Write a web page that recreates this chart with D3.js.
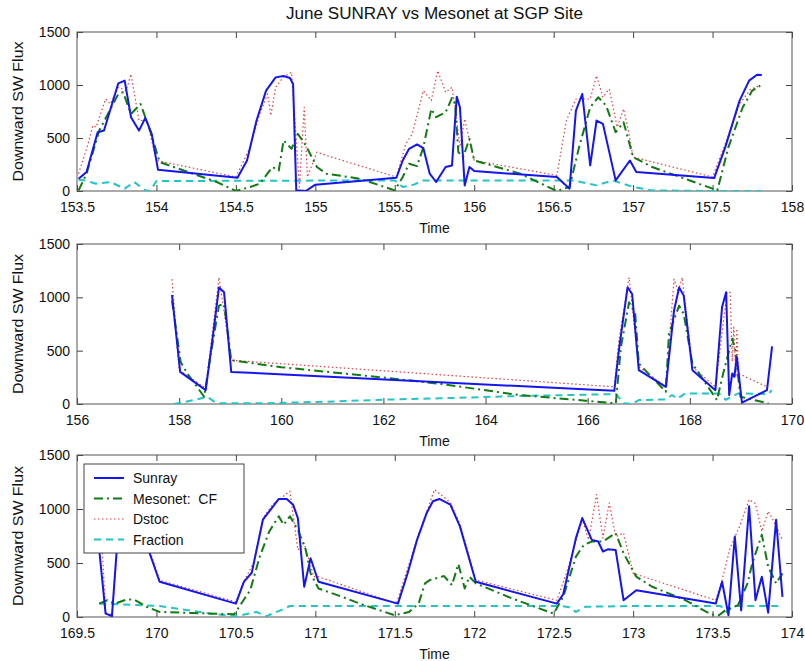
<!DOCTYPE html>
<html><head><meta charset="utf-8">
<script src="https://cdn.jsdelivr.net/npm/d3@7"></script>
<style>
body{margin:0;background:#fff;}
text{font-family:"Liberation Sans",Arial,sans-serif;fill:#111;}
</style></head>
<body><svg id="c" width="805" height="661"></svg>
<script>
const title = "June SUNRAY vs Mesonet at SGP Site";
const seriesNames = ["Sunray","Mesonet:  CF","Dstoc","Fraction"];
const yTicks = [0,500,1000,1500];
const xTicks1 = [153.5,154,154.5,155,155.5,156,156.5,157,157.5,158];
const xTicks2 = [156,158,160,162,164,166,168,170];
const xTicks3 = [169.5,170,170.5,171,171.5,172,172.5,173,173.5,174];

// Panel 1
const sunray1 = [[153.51,116],[153.56,179],[153.63,555],[153.67,570],[153.76,1016],[153.80,1041],[153.84,696],[153.89,570],[153.93,690],[153.97,540],[154.01,200],[154.51,125],[154.57,288],[154.63,665],[154.69,947],[154.75,1072],[154.80,1085],[154.84,1066],[154.86,1009],[154.88,6],[154.94,0],[155.00,60],[155.51,125],[155.55,288],[155.59,398],[155.64,439],[155.68,404],[155.72,163],[155.76,85],[155.82,226],[155.86,241],[155.89,890],[155.91,790],[155.94,53],[155.97,226],[156.00,188],[156.52,132],[156.60,22],[156.64,759],[156.68,915],[156.73,241],[156.77,665],[156.81,633],[156.89,100],[156.98,288],[157.02,179],[157.51,122],[157.58,414],[157.67,853],[157.73,1041],[157.78,1097],[157.81,1094]];
const mesonet1 = [[153.51,6],[153.56,163],[153.64,570],[153.76,915],[153.79,931],[153.84,727],[153.90,821],[153.96,570],[154.02,273],[154.23,163],[154.38,85],[154.50,0],[154.59,38],[154.65,69],[154.73,226],[154.77,194],[154.80,477],[154.85,398],[154.89,539],[154.94,430],[155.01,226],[155.07,163],[155.28,116],[155.50,6],[155.55,132],[155.59,257],[155.64,235],[155.68,414],[155.73,774],[155.76,696],[155.82,743],[155.86,878],[155.88,821],[155.90,367],[155.93,320],[155.97,492],[156.00,288],[156.29,163],[156.52,0],[156.60,38],[156.66,414],[156.73,790],[156.78,884],[156.83,806],[156.89,555],[156.94,649],[157.00,320],[157.12,226],[157.50,22],[157.53,6],[157.60,414],[157.69,790],[157.75,947],[157.80,994]];
const dstoc1 = [[153.51,163],[153.57,445],[153.60,618],[153.62,602],[153.68,868],[153.71,821],[153.76,978],[153.81,947],[153.84,1103],[153.89,665],[153.94,665],[154.00,288],[154.50,132],[154.59,414],[154.65,727],[154.70,915],[154.72,712],[154.75,978],[154.80,1078],[154.85,1119],[154.90,38],[154.93,790],[154.95,132],[155.01,367],[155.07,335],[155.51,132],[155.57,445],[155.61,539],[155.68,947],[155.73,853],[155.77,1135],[155.82,931],[155.86,978],[155.88,790],[155.91,414],[155.94,680],[155.97,477],[156.00,288],[156.52,147],[156.58,665],[156.64,868],[156.73,868],[156.77,1088],[156.81,884],[156.85,962],[156.90,602],[156.94,774],[156.97,570],[157.00,320],[157.50,132],[157.58,445],[157.67,821],[157.74,962],[157.80,994]];
const fraction1 = [[153.51,107],[153.55,100],[153.62,69],[153.71,85],[153.80,22],[153.86,85],[153.93,6],[153.96,0],[154.00,94],[155.50,100],[155.55,38],[155.62,60],[155.68,100],[156.62,100],[156.77,53],[156.87,100],[157.00,38],[157.12,6],[157.50,0],[157.81,0]];

// Panel 2
const sunray2 = [[157.86,1022],[158.02,301],[158.52,130],[158.65,596],[158.78,1093],[158.88,1047],[159.02,301],[166.52,124],[166.61,503],[166.78,1093],[166.87,1031],[167.00,317],[167.53,161],[167.69,876],[167.79,1093],[167.88,1016],[168.05,317],[168.50,130],[168.63,907],[168.71,1047],[168.77,84],[168.83,286],[168.87,255],[168.92,441],[168.97,224],[169.02,12],[169.51,130],[169.61,540]];
const mesonet2 = [[157.86,969],[158.03,394],[158.16,286],[158.49,68],[158.62,472],[158.78,922],[158.88,938],[159.02,410],[160.0,345],[162.0,248],[163.1,190],[164.66,84],[165.96,31],[166.55,6],[166.65,534],[166.81,953],[166.93,845],[167.00,379],[167.53,115],[167.59,658],[167.79,922],[167.88,845],[168.05,379],[168.53,37],[168.66,301],[168.83,612],[168.89,503],[168.99,68],[169.54,6]];
const dstoc2 = [[157.86,1171],[158.0,317],[158.52,146],[158.78,1187],[159.02,410],[166.52,161],[166.61,596],[166.81,1187],[167.0,348],[167.53,161],[167.69,1171],[167.77,1050],[167.85,1187],[168.05,348],[168.50,161],[168.73,1047],[168.79,1047],[168.83,400],[168.86,720],[168.90,250],[168.92,705],[168.95,286],[169.51,161]];
const fraction2 = [[157.9,0],[158.29,37],[158.55,68],[158.68,25],[158.81,6],[159.6,6],[160.9,22],[162.2,43],[163.1,53],[164.66,75],[166.55,93],[166.71,6],[166.87,0],[167.0,37],[167.53,43],[167.65,84],[167.75,50],[167.91,99],[168.57,99],[168.7,40],[168.95,99],[169.54,93],[169.6,130]];

// Panel 3
const sunray3 = [[169.63,1050],[169.64,621],[169.68,31],[169.72,9],[169.75,621],[169.78,1050],[169.92,1050],[169.95,621],[170.02,326],[170.50,124],[170.55,326],[170.60,410],[170.67,901],[170.77,1093],[170.82,1093],[170.86,1040],[170.89,916],[170.93,280],[170.97,544],[171.02,326],[171.52,124],[171.58,400],[171.64,714],[171.70,960],[171.74,1072],[171.78,1093],[171.85,1040],[171.91,839],[172.01,326],[172.52,124],[172.56,211],[172.64,730],[172.68,916],[172.74,714],[172.78,699],[172.81,606],[172.84,627],[172.89,621],[172.94,155],[173.02,248],[173.52,124],[173.56,326],[173.60,16],[173.64,745],[173.68,62],[173.73,1025],[173.77,155],[173.81,373],[173.85,40],[173.90,901],[173.94,186]];
const mesonet3 = [[169.64,124],[169.69,155],[169.74,124],[169.81,161],[169.86,161],[169.94,93],[170.02,47],[170.23,37],[170.49,25],[170.52,93],[170.59,248],[170.65,559],[170.71,792],[170.77,932],[170.80,854],[170.84,932],[170.89,808],[170.94,621],[170.97,404],[171.02,264],[171.17,186],[171.28,124],[171.50,16],[171.59,47],[171.65,124],[171.69,311],[171.72,342],[171.81,379],[171.86,295],[171.90,491],[171.94,264],[171.97,373],[172.01,311],[172.24,171],[172.50,31],[172.56,186],[172.64,559],[172.69,668],[172.74,699],[172.81,699],[172.89,777],[172.94,590],[173.02,373],[173.12,280],[173.33,155],[173.49,25],[173.54,16],[173.58,62],[173.66,109],[173.72,311],[173.75,497],[173.81,761],[173.85,466],[173.90,311],[173.94,404]];
const dstoc3 = [[169.64,1150],[169.68,40],[169.72,20],[169.78,1100],[169.92,1100],[169.95,650],[170.02,340],[170.50,140],[170.55,330],[170.61,497],[170.67,916],[170.73,1040],[170.84,1165],[170.89,621],[170.93,683],[170.99,373],[171.02,373],[171.51,124],[171.64,720],[171.75,1180],[171.85,1060],[171.91,860],[172.01,342],[172.52,155],[172.58,404],[172.68,901],[172.72,714],[172.77,1134],[172.81,730],[172.85,1056],[172.89,745],[172.94,777],[173.0,404],[173.52,155],[173.56,342],[173.61,637],[173.67,839],[173.73,1087],[173.77,1050],[173.81,792],[173.85,978],[173.88,900],[173.94,714]];
const fraction3 = [[169.64,124],[170.02,102],[170.34,31],[170.50,6],[170.56,25],[170.63,47],[170.69,6],[170.78,62],[170.84,102],[172.55,102],[172.60,90],[172.64,47],[172.70,95],[173.0,102],[173.55,102],[173.59,47],[173.63,102],[173.94,102]];

const styles = [
  {color:"#1515f0", width:2, dash:null},
  {color:"#127a12", width:2, dash:"9,4,2,4"},
  {color:"#e0404a", width:1.2, dash:"1.5,2.5"},
  {color:"#22c4c4", width:2, dash:"7,5"}
];

const svg = d3.select("#c");
const L = 77, R = 792;
const panels = [
  {dom:[153.5,158], ticks:xTicks1, top:32, bot:191, data:[sunray1,mesonet1,dstoc1,fraction1]},
  {dom:[156,170], ticks:xTicks2, top:244, bot:404, data:[sunray2,mesonet2,dstoc2,fraction2]},
  {dom:[169.5,174], ticks:xTicks3, top:455, bot:617, data:[sunray3,mesonet3,dstoc3,fraction3]}
];

svg.append("text").attr("x",(L+R)/2).attr("y",19).attr("text-anchor","middle")
  .attr("textLength",297).attr("lengthAdjust","spacingAndGlyphs")
  .style("font-size","16px").text(title);

panels.forEach((p,i)=>{
  const x = d3.scaleLinear().domain(p.dom).range([L,R]);
  const y = d3.scaleLinear().domain([0,1500]).range([p.bot,p.top]);
  const g = svg.append("g");
  const cid = "clip"+i;
  svg.append("clipPath").attr("id",cid).append("rect")
    .attr("x",L).attr("y",p.top).attr("width",R-L).attr("height",p.bot-p.top);
  const bx = d3.axisBottom(x).tickValues(p.ticks).tickSizeInner(-6).tickSizeOuter(0).tickPadding(11).tickFormat(d=>String(d));
  const tx = d3.axisTop(x).tickValues(p.ticks).tickSizeInner(-6).tickSizeOuter(0).tickFormat("");
  const ly = d3.axisLeft(y).tickValues(yTicks).tickSizeInner(-6).tickSizeOuter(0).tickPadding(7).tickFormat(d=>String(d));
  const ry = d3.axisRight(y).tickValues(yTicks).tickSizeInner(-6).tickSizeOuter(0).tickFormat("");
  [[bx,`translate(0,${p.bot})`],[tx,`translate(0,${p.top})`],[ly,`translate(${L},0)`],[ry,`translate(${R},0)`]].forEach(([a,t])=>{
    const ag = g.append("g").attr("transform",t).call(a);
    ag.select(".domain").remove();
    ag.selectAll("line").attr("stroke","#444");
    ag.selectAll("text").style("font-size","14px").style("font-family","'Liberation Sans',Arial,sans-serif").attr("fill","#111");
  });
  g.append("rect").attr("x",L).attr("y",p.top).attr("width",R-L).attr("height",p.bot-p.top)
    .attr("fill","none").attr("stroke","#555").attr("stroke-width",1);
  const line = d3.line().x(d=>x(d[0])).y(d=>y(d[1]));
  const lg = g.append("g").attr("clip-path",`url(#${cid})`);
  [3,2,1,0].forEach(k=>{
    const s = styles[k];
    lg.append("path").datum(p.data[k]).attr("d",line).attr("fill","none")
      .attr("stroke",s.color).attr("stroke-width",s.width)
      .attr("stroke-dasharray",s.dash).attr("stroke-linejoin","round");
  });
  svg.append("text").attr("x",(L+R)/2).attr("y",p.bot+42).attr("text-anchor","middle")
    .style("font-size","14px").text("Time");
  svg.append("text").attr("transform",`translate(23,${(p.top+p.bot)/2}) rotate(-90)`)
    .attr("text-anchor","middle").attr("textLength",140).attr("lengthAdjust","spacingAndGlyphs")
    .style("font-size","15px").text("Downward SW Flux");
});

// legend
const lgX = 84, lgY = 464, lgW = 160, lgH = 89;
const leg = svg.append("g");
leg.append("rect").attr("x",lgX).attr("y",lgY).attr("width",lgW).attr("height",lgH)
  .attr("fill","#fff").attr("stroke","#444").attr("stroke-width",1);
seriesNames.forEach((n,k)=>{
  const yy = lgY + 14 + k*20.5;
  const s = styles[k];
  leg.append("line").attr("x1",lgX+10).attr("x2",lgX+40).attr("y1",yy).attr("y2",yy)
    .attr("stroke",s.color).attr("stroke-width",s.width).attr("stroke-dasharray",s.dash);
  leg.append("text").attr("x",lgX+49).attr("y",yy+5).style("font-size","14px")
    .attr("xml:space","preserve").text(n);
});
</script></body></html>
